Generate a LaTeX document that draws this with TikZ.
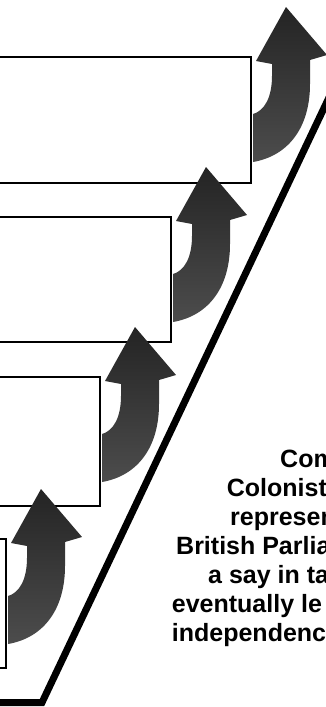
\documentclass[tikz,border=0pt]{standalone}
\usepackage{fontspec}
\setmainfont{Liberation Sans}
\usetikzlibrary{positioning}

\begin{document}
\begin{tikzpicture}[x=1pt,y=-1pt,
    stepbox/.style={draw,line width=2pt,fill=white,inner sep=0pt,anchor=north east},
    upturn/.style={top color=black!86,bottom color=black!70},
    note/.style={anchor=base west,inner sep=0pt,font=\fontsize{25}{29}\selectfont\bfseries}]
            \useasboundingbox (0,0) rectangle (325,707);
            \node[stepbox,minimum width=262pt,minimum height=126pt] (box1) at (252,56) {};
            \node[stepbox,minimum width=182pt,minimum height=125pt] (box2) at (172,216) {};
            \node[stepbox,minimum width=111pt,minimum height=129pt] (box3) at (101,376) {};
            \node[stepbox,minimum width=17pt,minimum height=129pt] (box4) at (7,538) {};
            \foreach \b in {box1,box2,box3,box4}
                \shade[upturn,shift={(\b.north east)}] (34,-49)--(75,-1)--(58,4)--(58,28) .. controls (58,72) and (36,100) .. (1,106)--(1,58) .. controls (12,55) and (20,42) .. (20,20)--(20,8)--(4,5)--cycle;
            \draw[line width=7pt] (-5,702.5)--(42,702.5)--(380,-10);
            \node[note] (line1) at (280,467) {Com};
            \node[note] (line2) at (226.7,496) {Colonist};
            \node[note] (line3) at (230,525) {represen};
            \node[note] (line4) at (176,554) {British Parlia};
            \node[note] (line5) at (208,583) {a say in ta};
            \node[note] (line6) at (171.7,612) {eventually le};
            \node[note] (line7) at (171.7,641) {independenc};
        \end{tikzpicture}
\end{document}
